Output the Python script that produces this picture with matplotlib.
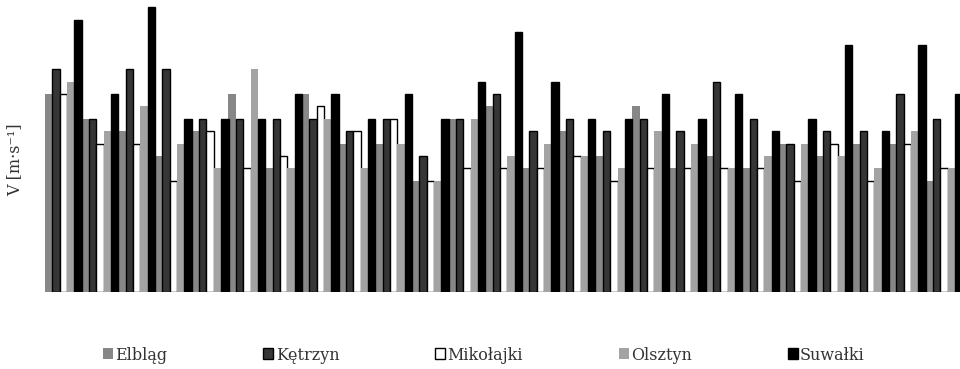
import numpy as np
import matplotlib
matplotlib.use("Agg")
import matplotlib.pyplot as plt

# Mean wind speed V [m/s] per station, consecutive periods
stations = ["Elbląg", "Kętrzyn", "Mikołajki", "Olsztyn", "Suwałki"]

elblag = [3.2, 2.8, 2.6, 2.2, 2.6, 3.2, 2.0, 3.2, 2.4, 2.4, 1.8, 2.8, 3.0,
          2.0, 2.6, 2.2, 3.0, 2.0, 2.2, 2.0, 2.4, 2.2, 2.4, 2.4, 1.8]
ketrzyn = [3.6, 2.8, 3.6, 3.6, 2.8, 2.8, 2.8, 2.8, 2.6, 2.8, 2.2, 2.8, 3.2,
           2.6, 2.8, 2.6, 2.8, 2.6, 3.4, 2.8, 2.4, 2.6, 2.6, 3.2, 2.8]
mikolajki = [3.2, 2.4, 2.4, 1.8, 2.6, 2.0, 2.2, 3.0, 2.6, 2.8, 1.8, 2.0, 2.0,
             2.0, 2.2, 1.8, 2.0, 2.0, 2.0, 2.0, 1.8, 2.4, 1.8, 2.4, 2.0]
olsztyn = [3.4, 2.6, 3.0, 2.4, 2.0, 3.6, 2.0, 2.8, 2.0, 2.4, 1.8, 2.8, 2.2,
           2.4, 2.2, 2.0, 2.6, 2.4, 2.0, 2.2, 2.4, 2.2, 2.0, 2.6, 2.0]
suwalki = [4.4, 3.2, 4.6, 2.8, 2.8, 2.8, 3.2, 3.2, 2.8, 3.2, 2.8, 3.4, 4.2,
           3.4, 2.8, 2.8, 3.2, 2.8, 3.2, 2.6, 2.8, 4.0, 2.6, 4.0, 3.2]

series = [elblag, ketrzyn, mikolajki, olsztyn, suwalki]
fills = ["#878787", "#363636", "#ffffff", "#a3a3a3", "#000000"]
edges = ["none", "#000000", "#000000", "none", "#000000"]

plt.rcParams["font.family"] = ["DejaVu Serif"]

fig = plt.figure(figsize=(9.6, 3.69), dpi=100)
ax = fig.add_axes([45 / 960, 1 - 292 / 369, 917.5 / 960, 292 / 369])

x = np.arange(len(elblag))
w = 0.2
for k, (vals, fc, ec, name) in enumerate(zip(series, fills, edges, stations)):
    ax.bar(x + (k - 2) * w, vals, width=w, color=fc, edgecolor=ec,
           linewidth=1.0 if ec != "none" else 0, label=name)

ax.set_xlim(-0.5, len(x) - 0.5)
ax.set_ylim(0, 4.72)
ax.set_xticks([])
ax.set_yticks([])
for s in ax.spines.values():
    s.set_visible(False)

fig.text(15 / 960, 1 - 160 / 369, "V [m·s⁻¹]", rotation=90, ha="center",
         va="center", fontsize=11.5, color="#333333")

handles, labels = ax.get_legend_handles_labels()
fig.legend(handles, labels, loc="center", bbox_to_anchor=(484 / 960, 1 - 355 / 369),
           ncol=5, frameon=False, fontsize=11.5, handlelength=0.62,
           handleheight=0.68, handletextpad=0.15, columnspacing=6.0,
           labelcolor="#333333", borderaxespad=0)

fig.savefig("out.png", dpi=100)
